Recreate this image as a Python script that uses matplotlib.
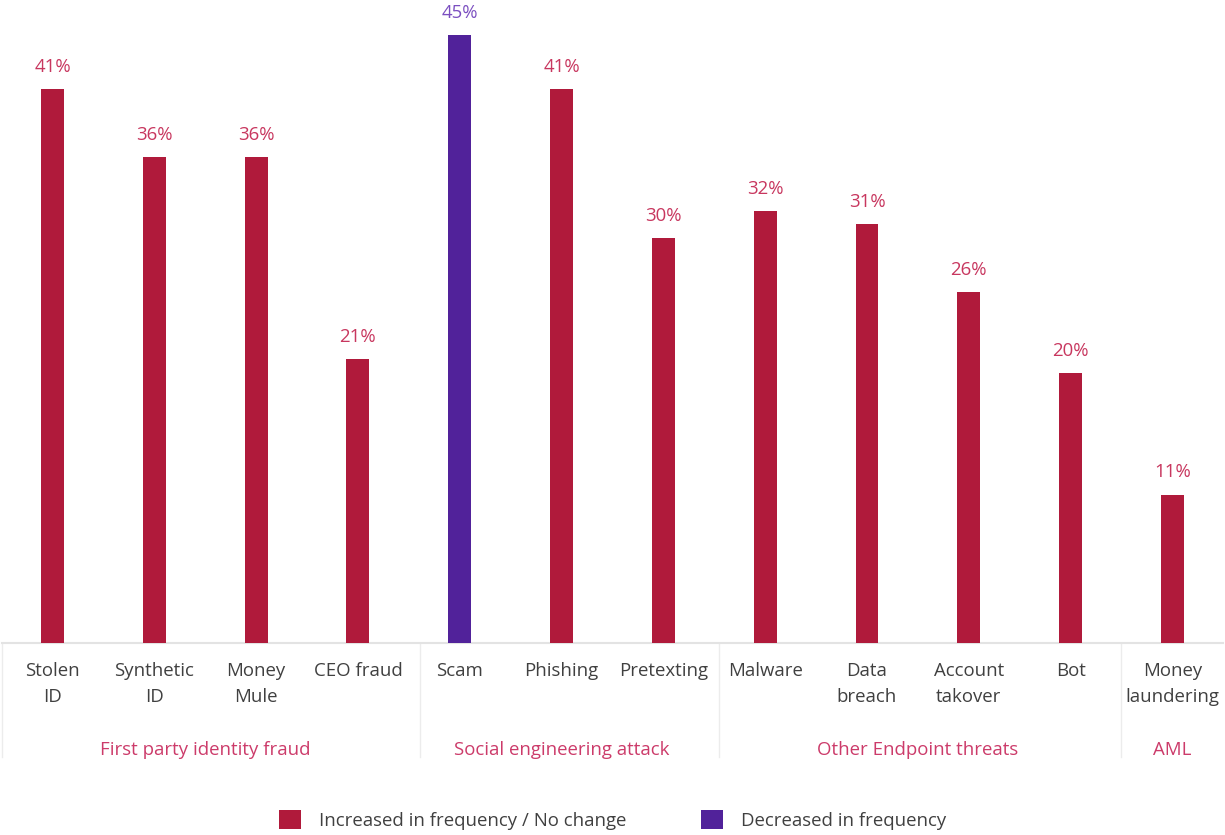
import matplotlib
matplotlib.use("Agg")
import matplotlib.pyplot as plt
from matplotlib.patches import Patch
from matplotlib.transforms import blended_transform_factory

# ---- data ----
categories = ["Stolen\nID", "Synthetic\nID", "Money\nMule", "CEO fraud",
              "Scam", "Phishing", "Pretexting",
              "Malware", "Data\nbreach", "Account\ntakover", "Bot",
              "Money\nlaundering"]
values = [41, 36, 36, 21, 45, 41, 30, 32, 31, 26, 20, 11]
trend = ["up", "up", "up", "up", "down", "up", "up",
         "up", "up", "up", "up", "up"]
groups = ["First party identity fraud", "Social engineering attack",
          "Other Endpoint threats", "AML"]
group_sizes = [4, 3, 4, 1]
legend_labels = ["Increased in frequency / No change", "Decreased in frequency"]

# ---- style ----
BAR = {"up": "#b01a3b", "down": "#51229a"}
LBL = {"up": "#c8375f", "down": "#7b4fc0"}
GROUP_COLOR = "#cc3b6a"
TEXT = "#404040"
plt.rcParams["font.family"] = ["Open Sans", "DejaVu Sans"]
FS = 13.4

fig = plt.figure(figsize=(12.25, 8.35), dpi=100)
ax = fig.add_axes([1.6 / 1225, 192 / 835, 1221.7 / 1225, 643 / 835])
ax.set_xlim(-0.5, len(categories) - 0.5)
ax.set_ylim(0, 643 / 13.5)

x = list(range(len(categories)))
ax.bar(x, values, width=0.225, color=[BAR[t] for t in trend], zorder=3)

for xi, v, t in zip(x, values, trend):
    ax.annotate(f"{v}%", (xi, v), xytext=(0, 12.5), textcoords="offset points",
                ha="center", va="baseline", fontsize=FS, color=LBL[t])

for s in ["top", "left", "right"]:
    ax.spines[s].set_visible(False)
ax.spines["bottom"].set_color("#e3e3e3")
ax.spines["bottom"].set_linewidth(1.5)
ax.set_yticks([])
ax.set_xticks(x)
ax.set_xticklabels(categories, fontsize=FS, color=TEXT, linespacing=1.55)
ax.tick_params(axis="x", length=0, pad=14)

# group separators and group titles below the axis
trans = blended_transform_factory(ax.transData, ax.transAxes)
sep_depth = -114 / 643
seps = [-0.5, 3.61, 6.55, 10.5]
for s in seps:
    ax.plot([s, s], [0, sep_depth], transform=trans, color="#ececec",
            lw=1.0, clip_on=False, zorder=1)

start = 0
for name, n in zip(groups, group_sizes):
    center = start + (n - 1) / 2
    ax.text(center, -112 / 643, name, transform=trans, ha="center",
            va="baseline", fontsize=FS, color=GROUP_COLOR)
    start += n

handles = [Patch(facecolor=BAR["up"]), Patch(facecolor=BAR["down"])]
fig.legend(handles, legend_labels, loc="center", bbox_to_anchor=(613 / 1225, 1 - 820 / 835),
           ncol=2, frameon=False, fontsize=FS, handlelength=1.15, handleheight=1.15,
           handletextpad=1.0, columnspacing=4.0, labelcolor=TEXT)

fig.savefig("out.png", dpi=100)
